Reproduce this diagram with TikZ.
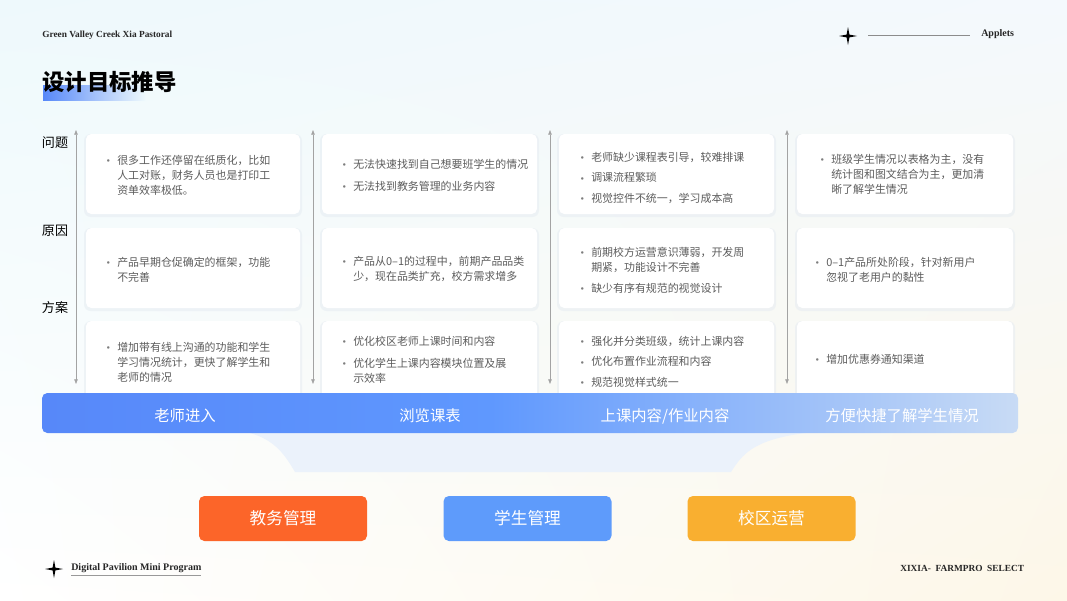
\documentclass[tikz,border=0pt]{standalone}
\usepackage{fontspec}
\setmainfont{Liberation Serif}
\newfontfamily\cjk{Noto Sans CJK SC}
\usetikzlibrary{arrows.meta,shadings}
\definecolor{bgtl}{HTML}{EEF9FC}
\definecolor{bgtr}{HTML}{F4F9FD}
\definecolor{bgbr}{HTML}{FDF7E8}
\definecolor{cardtxt}{HTML}{5C5C5C}
\definecolor{cardshade}{HTML}{E6ECF2}
\definecolor{axisgray}{HTML}{A3A3A3}
\definecolor{barl}{HTML}{5788F9}
\definecolor{barm}{HTML}{5F98FE}
\definecolor{barr}{HTML}{C8DBF5}
\definecolor{funnel}{HTML}{EBF2FB}
\definecolor{jworange}{HTML}{FC6529}
\definecolor{xsblue}{HTML}{5E9BFB}
\definecolor{xqamber}{HTML}{F9AF30}
\pgfdeclarehorizontalshading{flowbar}{100bp}{color(0bp)=(barl); color(25bp)=(barl); color(48bp)=(barm); color(75bp)=(barr); color(100bp)=(barr)}
\newcommand\itm{\makebox[13.5pt][c]{\raisebox{-0.9pt}{\color{cardtxt!80}\fontsize{9}{9}\selectfont\textbullet}}}
\newcommand\sparkle[1]{\fill[shift={#1}] (0,-9) -- (1.4,-1.4) -- (9,0) -- (1.4,1.4) -- (0,9) -- (-1.4,1.4) -- (-9,0) -- (-1.4,-1.4) -- cycle;}

\begin{document}
\begin{tikzpicture}[x=0.75pt,y=-0.75pt,
  card/.style={fill=white,rounded corners=4pt},
  cardsh/.style={fill=cardshade,opacity=0.55,rounded corners=5pt},
  txt/.style={anchor=base west,inner sep=0pt,font=\cjk\fontsize{8.2}{11.6}\selectfont,text=cardtxt},
  rowlbl/.style={inner sep=0pt,font=\cjk\fontsize{9.8}{11}\selectfont,text=black},
  axis/.style={{Triangle[length=3.5pt,width=2.6pt]}-{Triangle[length=3.5pt,width=2.6pt]},draw=axisgray,line width=0.5pt},
  flow/.style={inner sep=0pt,text=white,font=\cjk\fontsize{11.5}{13}\selectfont},
  btn/.style={rounded corners=4pt,minimum width=126pt,minimum height=33.75pt,inner sep=0pt,text=white,font=\cjk\fontsize{12.5}{14}\selectfont},
  eng/.style={inner sep=0pt,font=\bfseries\fontsize{7}{8}\selectfont,text=black!85}]
\useasboundingbox (0,0) rectangle (1067,600);
\shade[upper left=bgtl,upper right=bgtr,lower left=white,lower right=bgbr] (0,0) rectangle (1067,600);

% header
\node[eng,anchor=west] (brand) at (42,35) {Green Valley Creek Xia Pastoral};
\sparkle{(848,36)}
\coordinate (hl) at (868,35); \coordinate (hr) at (970,35);
\draw[black!45,line width=0.5pt] (hl) -- (hr);
\node[eng,anchor=west,font=\bfseries\fontsize{7.5}{8}\selectfont] (applets) at (981,34) {Applets};
\shade[left color=barl,right color=bgtl] (43,85) rectangle (145,100);
\node[anchor=west,inner sep=0pt,font=\cjk\bfseries\fontsize{16.8}{18}\selectfont] (title) at (42,82) {设计目标推导};

% row labels
\node[rowlbl] (wenti) at (55,143) {问题};
\node[rowlbl] (yuanyin) at (55,231) {原因};
\node[rowlbl] (fangan) at (55,308) {方案};

% axes and cards
\foreach \x [count=\i] in {76,313,550,787}{
  \coordinate (up\i) at (\x,130); \coordinate (dn\i) at (\x,384);
  \draw[axis] (up\i) -- (dn\i);
}
\foreach \l/\r in {86/300,322/537,559/774,797/1013}{
  \foreach \t/\b in {134/214,228/308,321/402}{
    \fill[cardsh] (\l-2,\t) rectangle (\r+2,\b+3);
    \fill[card] (\l,\t) rectangle (\r,\b);
  }
}

\node[txt] (p1) at (99,164) {\begin{tabular}[t]{@{}l@{}l@{}}\itm&很多工作还停留在纸质化，比如\\&人工对账，财务人员也是打印工\\&资单效率极低。\end{tabular}};
\node[txt] (c1) at (99,266) {\begin{tabular}[t]{@{}l@{}l@{}}\itm&产品早期仓促确定的框架，功能\\&不完善\end{tabular}};
\node[txt] (s1) at (99,351) {\begin{tabular}[t]{@{}l@{}l@{}}\itm&增加带有线上沟通的功能和学生\\&学习情况统计，更快了解学生和\\&老师的情况\end{tabular}};

\node[txt] (p2) at (335,168) {\begin{tabular}[t]{@{}l@{}l@{}}\itm&无法快速找到自己想要班学生的情况\\[5pt]\itm&无法找到教务管理的业务内容\end{tabular}};
\node[txt] (c2) at (335,265) {\begin{tabular}[t]{@{}l@{}l@{}}\itm&产品从0–1的过程中，前期产品品类\\&少，现在品类扩充，校方需求增多\end{tabular}};
\node[txt] (s2) at (335,345) {\begin{tabular}[t]{@{}l@{}l@{}}\itm&优化校区老师上课时间和内容\\[5pt]\itm&优化学生上课内容模块位置及展\\&示效率\end{tabular}};

\node[txt] (p3) at (573,161) {\begin{tabular}[t]{@{}l@{}l@{}}\itm&老师缺少课程表引导，较难排课\\[4pt]\itm&调课流程繁琐\\[4pt]\itm&视觉控件不统一，学习成本高\end{tabular}};
\node[txt] (c3) at (573,256) {\begin{tabular}[t]{@{}l@{}l@{}}\itm&前期校方运营意识薄弱，开发周\\&期紧，功能设计不完善\\[4pt]\itm&缺少有序有规范的视觉设计\end{tabular}};
\node[txt] (s3) at (573,345) {\begin{tabular}[t]{@{}l@{}l@{}}\itm&强化并分类班级，统计上课内容\\[4pt]\itm&优化布置作业流程和内容\\[4pt]\itm&规范视觉样式统一\end{tabular}};

\node[txt] (p4) at (813,163) {\begin{tabular}[t]{@{}l@{}l@{}}\itm&班级学生情况以表格为主，没有\\&统计图和图文结合为主，更加清\\&晰了解学生情况\end{tabular}};
\node[txt] (c4) at (808,266) {\begin{tabular}[t]{@{}l@{}l@{}}\itm&0–1产品所处阶段，针对新用户\\&忽视了老用户的黏性\end{tabular}};
\node[txt] (s4) at (808,363) {\begin{tabular}[t]{@{}l@{}l@{}}\itm&增加优惠券通知渠道\end{tabular}};

% flow bar
\fill[funnel] (250,433) .. controls (275,440) and (285,455) .. (295,472) -- (731,472) .. controls (742,455) and (752,440) .. (805,433) -- cycle;
\shade[shading=flowbar,rounded corners=4pt] (42,393) rectangle (1018,433);
\node[flow] (f1) at (185,416) {老师进入};
\node[flow] (f2) at (430,416) {浏览课表};
\node[flow] (f3) at (665,416) {上课内容/作业内容};
\node[flow] (f4) at (902,416) {方便快捷了解学生情况};

% buttons
\node[btn,fill=jworange] (jwgl) at (283,518.5) {教务管理};
\node[btn,fill=xsblue] (xsgl) at (527.5,518.5) {学生管理};
\node[btn,fill=xqamber] (xqyy) at (771.5,518.5) {校区运营};

% footer
\sparkle{(54,569)}
\node[eng,anchor=west,font=\bfseries\fontsize{7.5}{8}\selectfont] (mini) at (71,568) {Digital Pavilion Mini Program};
\coordinate (ul) at (71,575.5); \coordinate (ur) at (201,575.5);
\draw[black!40,line width=0.5pt] (ul) -- (ur);
\node[eng,anchor=west] (xixia) at (900,568) {XIXIA-\ \ FARMPRO\ \ SELECT};
\end{tikzpicture}
\end{document}
